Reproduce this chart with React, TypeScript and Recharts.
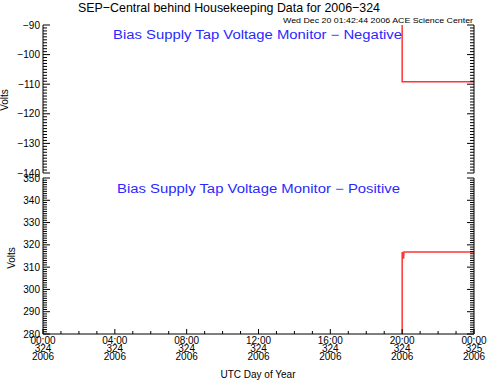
import { LineChart, Line, XAxis, YAxis } from "recharts";

// hours since 00:00 UTC day 324
const hourTicks = Array.from({ length: 25 }, (_, i) => i);
const majorHours = [0, 4, 8, 12, 16, 20, 24];
const timeLabels = ["00:00", "04:00", "08:00", "12:00", "16:00", "20:00", "00:00"];
const dayLabels = ["324", "324", "324", "324", "324", "324", "325"];
const yearLabels = ["2006", "2006", "2006", "2006", "2006", "2006", "2006"];

const negMajor = [-140, -130, -120, -110, -100, -90];
const posMajor = [280, 290, 300, 310, 320, 330, 340, 350];
const negTicks = Array.from({ length: 51 }, (_, i) => -140 + i);
const posTicks = Array.from({ length: 71 }, (_, i) => 280 + i);

// readings start at ~20:00 (values above/below the frame are clipped)
const negTime = [20.0, 20.0, 24.0];
const negVolts = [-80, -109.2, -109.2];
const posTime = [20.0, 20.0, 20.08, 20.1, 24.0];
const posVolts = [270, 316.8, 313.8, 316.8, 316.8];

const negData = negTime.map((t, i) => ({ t, v: negVolts[i] }));
const posData = posTime.map((t, i) => ({ t, v: posVolts[i] }));

const FONT = "Liberation Sans, Arial, sans-serif";

function LeftTick(props: any) {
  const { x, y, payload, majors } = props;
  const major = majors.includes(payload.value);
  return (
    <g>
      <line x1={x} x2={x + (major ? 7 : 4)} y1={y} y2={y} stroke="#000" />
      {major && (
        <text x={x - 3} y={y + 3.5} textAnchor="end" fontSize={10} fontFamily={FONT} fill="#000">
          {String(payload.value).replace("-", "\u2212")}
        </text>
      )}
    </g>
  );
}

function RightTick(props: any) {
  const { x, y, payload, majors } = props;
  const major = majors.includes(payload.value);
  return <line x1={x} x2={x - (major ? 7 : 4)} y1={y} y2={y} stroke="#000" />;
}

function TopTick(props: any) {
  const { x, y, payload } = props;
  const major = majorHours.includes(payload.value);
  return <line x1={x} x2={x} y1={y} y2={y + (major ? 5 : 3)} stroke="#000" />;
}

function BottomTick(props: any) {
  const { x, y, payload, labels } = props;
  const idx = majorHours.indexOf(payload.value);
  const major = idx >= 0;
  return (
    <g>
      <line x1={x} x2={x} y1={y} y2={y - (major ? 5 : 3)} stroke="#000" />
      {major && labels && (
        <text textAnchor="middle" fontSize={10} fontFamily={FONT} fill="#000">
          <tspan x={x} y={y + 10}>{timeLabels[idx]}</tspan>
          <tspan x={x} y={y + 17.5}>{dayLabels[idx]}</tspan>
          <tspan x={x} y={y + 26}>{yearLabels[idx]}</tspan>
        </text>
      )}
    </g>
  );
}

function Panel({ data, domain, ticks, majors, height, top, bottom, xHeight, labels }: any) {
  return (
    <LineChart width={487} height={height} data={data} margin={{ top, right: 0, bottom, left: 0 }}>
      <XAxis
        dataKey="t"
        type="number"
        domain={[0, 24]}
        ticks={hourTicks}
        interval={0}
        allowDataOverflow
        height={xHeight}
        tickSize={0}
        tickMargin={0}
        axisLine={{ stroke: "#000" }}
        tick={<BottomTick labels={labels} />}
      />
      <XAxis
        xAxisId="top"
        orientation="top"
        dataKey="t"
        type="number"
        domain={[0, 24]}
        ticks={hourTicks}
        interval={0}
        allowDataOverflow
        height={0}
        tickSize={0}
        tickMargin={0}
        axisLine={{ stroke: "#000" }}
        tick={<TopTick />}
      />
      <YAxis
        type="number"
        domain={domain}
        ticks={ticks}
        interval={0}
        allowDataOverflow
        width={43}
        tickSize={0}
        tickMargin={0}
        axisLine={{ stroke: "#000" }}
        tick={<LeftTick majors={majors} />}
      />
      <YAxis
        yAxisId="right"
        orientation="right"
        type="number"
        domain={domain}
        ticks={ticks}
        interval={0}
        allowDataOverflow
        width={13}
        tickSize={0}
        tickMargin={0}
        axisLine={{ stroke: "#000" }}
        tick={<RightTick majors={majors} />}
      />
      <Line
        dataKey="v"
        type="linear"
        stroke="#ff3535"
        strokeWidth={1.5}
        dot={false}
        isAnimationActive={false}
      />
    </LineChart>
  );
}

export default function App() {
  return (
    <div style={{ position: "relative", width: 487, height: 382, background: "#fff", overflow: "hidden" }}>
      <style>{"body{margin:0}"}</style>
      <div style={{ position: "absolute", left: 0, top: 0 }}>
        <Panel data={negData} domain={[-140, -90]} ticks={negTicks} majors={negMajor}
          height={182} top={25} bottom={9} xHeight={0} labels={false} />
      </div>
      <div style={{ position: "absolute", left: 0, top: 168 }}>
        <Panel data={posData} domain={[280, 350]} ticks={posTicks} majors={posMajor}
          height={214} top={10} bottom={0} xHeight={48} labels={true} />
      </div>
      <svg width={487} height={382} style={{ position: "absolute", left: 0, top: 0, pointerEvents: "none" }}>
        <text x={229} y={12} textAnchor="middle" fontSize={13} fontFamily={FONT} textLength={302} lengthAdjust="spacingAndGlyphs">
          SEP{"\u2212"}Central behind Housekeeping Data for 2006{"\u2212"}324
        </text>
        <text x={473} y={22.5} textAnchor="end" fontSize={8} fontFamily={FONT} textLength={190} lengthAdjust="spacingAndGlyphs">
          Wed Dec 20 01:42:44 2006 ACE Science Center
        </text>
        <text x={113} y={39} fontSize={12} fontFamily={FONT} fill="#2a2aff" textLength={289} lengthAdjust="spacingAndGlyphs">
          Bias Supply Tap Voltage Monitor {"\u2212"} Negative
        </text>
        <text x={117} y={192.5} fontSize={12} fontFamily={FONT} fill="#2a2aff" textLength={283} lengthAdjust="spacingAndGlyphs">
          Bias Supply Tap Voltage Monitor {"\u2212"} Positive
        </text>
        <text x={0} y={0} transform="translate(8,100) rotate(-90)" textAnchor="middle" fontSize={10} fontFamily={FONT}>
          Volts
        </text>
        <text x={0} y={0} transform="translate(15,258) rotate(-90)" textAnchor="middle" fontSize={10} fontFamily={FONT}>
          Volts
        </text>
        <text x={258} y={378} textAnchor="middle" fontSize={10} fontFamily={FONT}>
          UTC Day of Year
        </text>
      </svg>
    </div>
  );
}
